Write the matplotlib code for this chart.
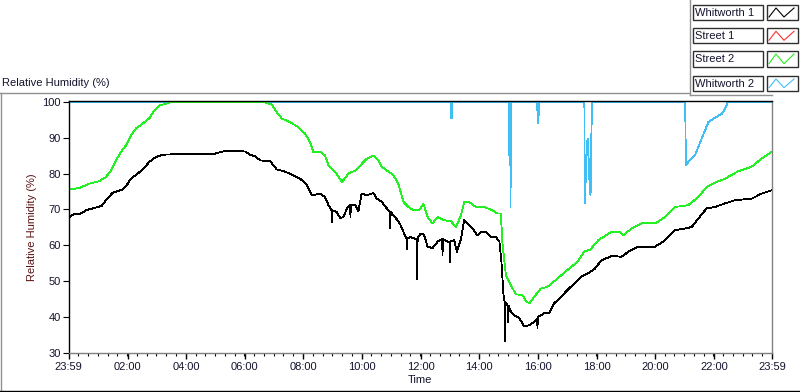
import matplotlib
matplotlib.use('Agg')
import matplotlib.pyplot as plt
from matplotlib.lines import Line2D
from matplotlib.patches import Rectangle

plt.rcParams['font.family'] = ['Liberation Sans', 'DejaVu Sans']

# ---------------- data (hours after 23:59) ----------------
whit1_t = [0, 0.2, 0.37, 0.6, 0.83, 1.13, 1.28, 1.51, 1.85, 2.02, 2.13, 2.30, 2.53, 2.76, 2.99,
           3.21, 3.56, 4.24, 4.92, 5.26, 5.62, 6.02, 6.19, 6.36, 6.54, 6.88, 7.10, 7.33, 7.56,
           7.90, 8.13, 8.30, 8.58, 8.75, 8.87, 8.97, 8.98, 8.99, 9.15, 9.27, 9.38, 9.50, 9.61,
           9.62, 9.63, 9.78, 9.89, 10.0, 10.18, 10.40, 10.52, 10.69, 10.86, 10.97, 10.98, 10.99,
           11.14, 11.31, 11.43, 11.53, 11.54, 11.55, 11.66, 11.83, 11.89, 11.90, 11.91, 12.02,
           12.13, 12.25, 12.42, 12.59, 12.75, 12.76, 12.77, 12.93, 13.01, 13.02, 13.03, 13.16,
           13.25, 13.39, 13.50, 13.61, 13.78, 13.95, 14.07, 14.24, 14.41, 14.58, 14.70, 14.77,
           14.84, 14.88, 14.89, 14.90, 14.98, 15.00, 15.02, 15.09, 15.21, 15.38, 15.55, 15.72,
           15.89, 15.99, 16.0, 16.01, 16.23, 16.40, 16.57, 16.80, 17.02, 17.25, 17.48, 17.71,
           17.96, 18.18, 18.53, 18.87, 19.10, 19.44, 19.78, 20.01, 20.35, 20.69, 21.03, 21.26,
           21.49, 21.77, 22.05, 22.40, 22.74, 23.30, 23.64, 24.0]
whit1_v = [67.5, 68.9, 68.6, 69.8, 70.3, 71.0, 72.6, 74.7, 75.6, 77.2, 78.6, 79.6, 81.2, 83.3, 84.7,
           85.3, 85.4, 85.6, 85.4, 86.2, 86.4, 86.2, 85.3, 84.9, 83.7, 83.5, 81.2, 80.7, 80.0,
           78.6, 76.9, 74.0, 74.4, 73.5, 71.2, 69.8, 66.5, 69.8, 69.3, 67.6, 67.9, 70.3, 71.2,
           67.9, 71.2, 71.2, 69.5, 74.4, 74.0, 74.6, 73.0, 72.1, 70.3, 69.3, 64.7, 69.3,
           67.9, 66.0, 63.7, 61.8, 59.0, 61.8, 62.3, 61.8, 61.8, 50.6, 62.0, 63.3,
           62.9, 59.6, 59.2, 61.0, 61.8, 57.2, 61.8, 61.0, 61.0, 55.4, 61.2, 61.4,
           58.2, 61.8, 67.0, 66.1, 64.7, 62.8, 63.8, 63.8, 62.3, 62.3, 61.0, 55.4,
           46.1, 44.2, 33.1, 44.0, 43.3, 38.5, 43.0, 41.5, 40.5, 39.6, 37.3, 37.7,
           38.6, 39.5, 36.8, 40.0, 41.0, 41.0, 43.8, 45.6, 47.5, 49.3, 51.2, 52.1,
           53.5, 55.8, 57.0, 56.8, 58.2, 59.6, 59.6, 59.6, 61.4, 64.2, 64.7, 65.1,
           67.5, 70.3, 70.7, 71.7, 72.6, 73.0, 74.4, 75.4]

street1_t = []
street1_v = []

street2_t = [0, 0.37, 0.71, 1.05, 1.28, 1.45, 1.62, 1.79, 1.96, 2.13, 2.30, 2.53, 2.76, 2.93, 3.10,
             3.33, 3.47, 6.65, 6.93, 7.10, 7.28, 7.56, 7.84, 8.07, 8.24, 8.35, 8.58, 8.75, 8.87,
             9.10, 9.33, 9.55, 9.78, 9.95, 10.18, 10.40, 10.57, 10.69, 10.86, 11.08, 11.25, 11.43,
             11.60, 11.77, 11.97, 12.11, 12.25, 12.42, 12.59, 12.82, 13.05, 13.22, 13.39, 13.50,
             13.67, 13.90, 14.18, 14.46, 14.63, 14.75, 14.80, 14.92, 15.09, 15.26, 15.49, 15.60,
             15.72, 15.89, 16.11, 16.34, 16.68, 17.02, 17.37, 17.59, 17.80, 18.07, 18.53, 18.81,
             18.93, 19.21, 19.61, 20.01, 20.35, 20.69, 21.14, 21.49, 21.77, 22.05, 22.40, 22.85,
             23.30, 23.64, 24.0]
street2_v = [75.5, 76.0, 77.2, 77.9, 79.1, 80.9, 83.7, 86.1, 87.9, 90.7, 92.6, 94.0, 95.5, 97.7, 99.1,
             99.5, 100, 100, 99.3, 97.2, 95.4, 94.4, 93.0, 91.2, 88.8, 86.1, 86.2, 85.1, 82.3,
             80.5, 77.7, 80.0, 80.9, 82.3, 84.2, 85.1, 83.7, 81.9, 80.9, 79.6, 77.2, 72.1,
             70.7, 69.8, 69.8, 71.6, 67.9, 66.1, 67.9, 67.0, 66.7, 65.1, 68.4, 72.1,
             72.1, 70.7, 70.7, 69.8, 68.9, 68.9, 61.0, 51.7, 48.9, 46.3, 46.1, 44.4,
             43.8, 45.6, 47.9, 48.4, 50.7, 53.1, 55.4, 58.2, 58.8, 61.4, 63.8, 63.8,
             62.8, 64.7, 66.3, 66.1, 67.9, 70.7, 71.2, 73.5, 76.3, 77.5, 78.6, 80.7,
             81.9, 84.2, 86.1]

whit2_t = [0, 13.03, 13.035, 13.05, 13.06, 13.075, 13.085, 13.10, 15.02, 15.03, 15.045, 15.055,
           15.07, 15.08, 15.09, 15.99, 16.0, 16.02, 16.03, 16.05, 17.60, 17.61, 17.63, 17.65,
           17.69, 17.71, 17.75, 17.79, 17.81, 17.83, 17.86, 21.04, 21.05, 21.06, 21.14, 21.37,
           21.60, 21.83, 22.0, 22.29, 22.40, 22.49, 24.0]
whit2_v = [100, 100, 95.4, 100, 95.4, 100, 95.4, 100, 100, 85.1, 100, 85.1,
           100, 70.7, 100, 100, 96.7, 100, 94.0, 100, 100, 72.5, 71.7, 82.9,
           87.9, 89.8, 82.9, 74.5, 74.0, 87.4, 100, 100, 91.2, 82.5, 83.2, 85.1,
           89.8, 94.4, 95.4, 96.7, 98.1, 100, 100]

series_names = ['Whitworth 1', 'Street 1', 'Street 2', 'Whitworth 2']
series_colors = ['#000000', '#ff3030', '#22f022', '#40bff5']

x_tick_pos = [0, 2 + 1 / 60, 4 + 1 / 60, 6 + 1 / 60, 8 + 1 / 60, 10 + 1 / 60, 12 + 1 / 60,
              14 + 1 / 60, 16 + 1 / 60, 18 + 1 / 60, 20 + 1 / 60, 22 + 1 / 60, 24]
x_tick_labels = ['23:59', '02:00', '04:00', '06:00', '08:00', '10:00', '12:00', '14:00',
                 '16:00', '18:00', '20:00', '22:00', '23:59']
y_ticks = [30, 40, 50, 60, 70, 80, 90, 100]

# ---------------- figure ----------------
W, H = 800, 392
fig = plt.figure(figsize=(W / 100, H / 100), dpi=100)
fig.patch.set_facecolor('white')


def fx(px):
    return px / W


def fy(py):
    return 1 - py / H


ax = fig.add_axes([fx(68.5), fy(352.7), fx(772) - fx(68.5), fy(101) - fy(352.7)])

LW = 0.6
ax.plot(street1_t, street1_v, color=series_colors[1], lw=LW, antialiased=False)
ax.plot(whit2_t, whit2_v, color=series_colors[3], lw=LW, antialiased=False)
ax.plot(street2_t, street2_v, color=series_colors[2], lw=LW, antialiased=False)
ax.plot(whit1_t, whit1_v, color=series_colors[0], lw=LW, antialiased=False)

ax.set_xlim(0, 24)
ax.set_ylim(30, 100.3)
ax.set_xticks(x_tick_pos)
ax.set_xticklabels(x_tick_labels)
ax.set_xticks([i / 3 for i in range(0, 73)], minor=True)
ax.set_yticks(y_ticks)
ax.set_yticklabels([str(v) for v in y_ticks])

txtc = '#14142e'
ax.tick_params(axis='x', which='major', length=4, width=1, direction='out', pad=3,
               labelsize=8, labelcolor=txtc, color='black')
ax.tick_params(axis='x', which='minor', length=2.5, width=0.8, direction='out', color='black')
ax.tick_params(axis='y', which='major', length=4, width=0.8, direction='out', pad=1.5,
               labelsize=8, labelcolor=txtc, color='black')

ax.spines['left'].set_color('black')
ax.spines['top'].set_color('black')
ax.spines['right'].set_color('#808080')
ax.spines['bottom'].set_color('#808080')
for s in ax.spines.values():
    s.set_linewidth(1)

ax.set_ylabel('Relative Humidity (%)', fontsize=8, color='#5a1212', labelpad=4)
ax.set_xlabel('Time', fontsize=8, color=txtc, labelpad=2)

fig.text(fx(2), fy(83), 'Relative Humidity (%)', fontsize=8, color=txtc, ha='left', va='center')

# ---------------- frame lines ----------------
gray = '#909090'
fig.add_artist(Line2D([fx(0), fx(689)], [fy(92.5), fy(92.5)], color=gray, lw=1))
fig.add_artist(Line2D([fx(1), fx(1)], [fy(92.5), fy(390)], color=gray, lw=1))
fig.add_artist(Line2D([fx(0), fx(800)], [fy(390.5), fy(390.5)], color='black', lw=1))
fig.add_artist(Line2D([fx(689.5), fx(689.5)], [fy(0), fy(95)], color=gray, lw=1))
fig.add_artist(Line2D([fx(689.5), fx(772)], [fy(95), fy(95)], color=gray, lw=1))

# ---------------- legend ----------------
rows = [(5, 20), (28.3, 43.3), (51, 66.7), (76, 90.7)]
for name, col, (y0, y1) in zip(series_names, series_colors, rows):
    fig.add_artist(Rectangle((fx(692.5), fy(y1)), fx(762.5) - fx(692.5), fy(y0) - fy(y1),
                             transform=fig.transFigure, facecolor='white',
                             edgecolor='#303030', lw=1))
    fig.text(fx(695), fy((y0 + y1) / 2 + 0.5), name, fontsize=8, color=txtc,
             ha='left', va='center')
    fig.add_artist(Rectangle((fx(766.5), fy(y1)), fx(797.5) - fx(766.5), fy(y0) - fy(y1),
                             transform=fig.transFigure, facecolor='white',
                             edgecolor='#303030', lw=1))
    xs = [769, 776, 784, 794]
    ys = [y1 - 3, y0 + 3, y1 - 3, y0 + 3]
    fig.add_artist(Line2D([fx(v) for v in xs], [fy(v) for v in ys], color=col, lw=0.8))

fig.savefig('out.png', dpi=100)
